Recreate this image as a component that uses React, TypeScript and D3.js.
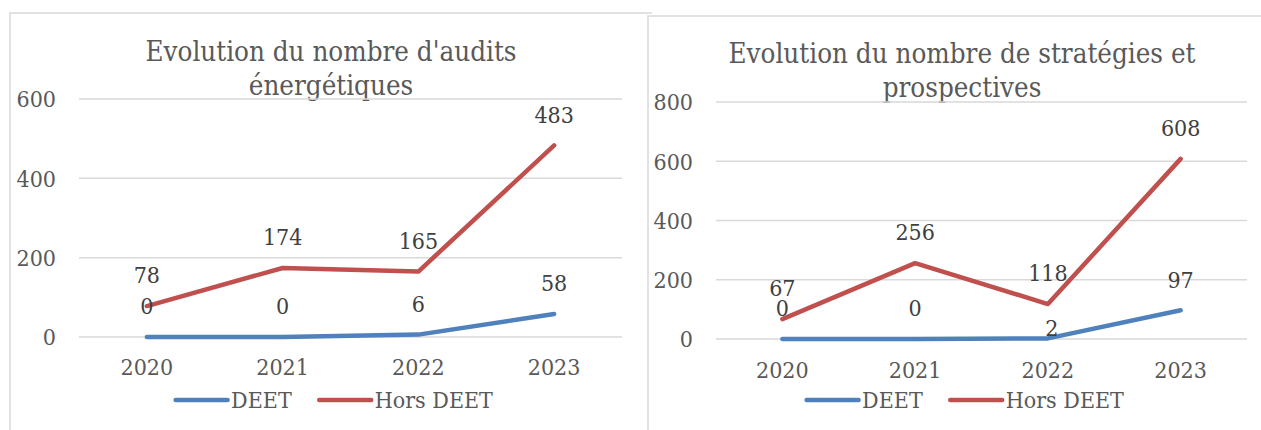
import React, { useEffect, useRef } from "react";
import * as d3 from "d3";

// ---- Data ----
const years = ["2020", "2021", "2022", "2023"];
const seriesNames = ["DEET", "Hors DEET"];

const auditsTitle = ["Evolution du nombre d'audits", "énergétiques"];
const auditsDEET = [0, 0, 6, 58];
const auditsHorsDEET = [78, 174, 165, 483];
const auditsTicks = [0, 200, 400, 600];

const strategiesTitle = ["Evolution du nombre de stratégies et", "prospectives"];
const strategiesDEET = [0, 0, 2, 97];
const strategiesHorsDEET = [67, 256, 118, 608];
const strategiesTicks = [0, 200, 400, 600, 800];

const COLORS = ["#4f81bd", "#c0504d"];
const FONT = "'DejaVu Serif Condensed', 'DejaVu Serif', serif";

const charts = [
  {
    title: auditsTitle,
    series: [auditsDEET, auditsHorsDEET],
    ticks: auditsTicks,
    frame: { x: 10, y: 13, w: 642 },
    plot: { x0: 79, x1: 622, yBottom: 337, yTop: 99 },
    cx: 331,
    titleY: [61, 95],
    tickLabelY: 375,
    legendY: 400,
    nudges: [] as { s: number; i: number; dx: number; dy: number }[],
  },
  {
    title: strategiesTitle,
    series: [strategiesDEET, strategiesHorsDEET],
    ticks: strategiesTicks,
    frame: { x: 648, y: 16, w: 640 },
    plot: { x0: 716, x1: 1247, yBottom: 339, yTop: 102 },
    cx: 962,
    titleY: [63, 97],
    tickLabelY: 378,
    legendY: 400,
    nudges: [{ s: 0, i: 2, dx: 4, dy: 20 }],
  },
];

export default function App() {
  const ref = useRef<SVGSVGElement>(null);

  useEffect(() => {
    const svg = d3.select(ref.current);
    svg.selectAll("*").remove();

    charts.forEach((c) => {
      const g = svg.append("g");
      // background + frame
      g.append("rect")
        .attr("x", c.frame.x)
        .attr("y", c.frame.y)
        .attr("width", c.frame.w)
        .attr("height", 500)
        .attr("fill", "#ffffff");
      g.append("path")
        .attr("d", `M${c.frame.x},${c.frame.y + 500}V${c.frame.y}H${c.frame.x + c.frame.w}`)
        .attr("fill", "none")
        .attr("stroke", "#d9d9d9")
        .attr("stroke-width", 1.5);

      const x = d3.scalePoint<string>().domain(years).range([c.plot.x0, c.plot.x1]).padding(0.5);
      const y = d3
        .scaleLinear()
        .domain([0, d3.max(c.ticks) as number])
        .range([c.plot.yBottom, c.plot.yTop]);

      // title
      c.title.forEach((t, k) => {
        g.append("text")
          .attr("x", c.cx)
          .attr("y", c.titleY[k])
          .attr("text-anchor", "middle")
          .attr("font-family", FONT)
          .attr("font-size", 27.5)
          .attr("fill", "#595959")
          .text(t);
      });

      // gridlines
      g.selectAll(null)
        .data(c.ticks)
        .enter()
        .append("line")
        .attr("x1", c.plot.x0)
        .attr("x2", c.plot.x1)
        .attr("y1", (d) => y(d))
        .attr("y2", (d) => y(d))
        .attr("stroke", "#d9d9d9")
        .attr("stroke-width", 1.5);

      // y tick labels
      g.selectAll(null)
        .data(c.ticks)
        .enter()
        .append("text")
        .attr("x", c.plot.x0 - 23)
        .attr("y", (d) => y(d))
        .attr("dy", "0.36em")
        .attr("text-anchor", "end")
        .attr("font-family", FONT)
        .attr("font-size", 23)
        .attr("fill", "#595959")
        .text((d) => String(d));

      // x tick labels
      g.selectAll(null)
        .data(years)
        .enter()
        .append("text")
        .attr("x", (d) => x(d) as number)
        .attr("y", c.tickLabelY)
        .attr("text-anchor", "middle")
        .attr("font-family", FONT)
        .attr("font-size", 23)
        .attr("fill", "#595959")
        .text((d) => d);

      // lines
      const line = d3
        .line<number>()
        .x((_, i) => x(years[i]) as number)
        .y((d) => y(d));
      c.series.forEach((vals, s) => {
        g.append("path")
          .attr("d", line(vals) as string)
          .attr("fill", "none")
          .attr("stroke", COLORS[s])
          .attr("stroke-width", 4.5)
          .attr("stroke-linecap", "round")
          .attr("stroke-linejoin", "round");
      });

      // data labels
      c.series.forEach((vals, s) => {
        vals.forEach((v, i) => {
          const n = c.nudges.find((q) => q.s === s && q.i === i);
          g.append("text")
            .attr("x", (x(years[i]) as number) + (n ? n.dx : 0))
            .attr("y", y(v) - 31 + (n ? n.dy : 0))
            .attr("dy", "0.36em")
            .attr("text-anchor", "middle")
            .attr("font-family", FONT)
            .attr("font-size", 23)
            .attr("fill", "#404040")
            .text(String(v));
        });
      });

      // legend
      const lineLen = 52;
      const gapAfterLine = 6;
      const gapBetween = 25;
      const legend = g.append("g");
      let cursor = 0;
      seriesNames.forEach((name, s) => {
        legend
          .append("line")
          .attr("x1", cursor + 2.5)
          .attr("x2", cursor + 2.5 + lineLen)
          .attr("y1", c.legendY)
          .attr("y2", c.legendY)
          .attr("stroke", COLORS[s])
          .attr("stroke-width", 4.5)
          .attr("stroke-linecap", "round");
        const t = legend
          .append("text")
          .attr("x", cursor + lineLen + gapAfterLine)
          .attr("y", c.legendY)
          .attr("dy", "0.36em")
          .attr("font-family", FONT)
          .attr("font-size", 23)
          .attr("fill", "#595959")
          .text(name);
        const tw = (t.node() as SVGTextElement).getComputedTextLength();
        cursor += lineLen + gapAfterLine + tw + gapBetween;
      });
      const total = cursor - gapBetween;
      legend.attr("transform", `translate(${c.cx + 2 - total / 2},0)`);
    });
  }, []);

  return (
    <svg
      ref={ref}
      width={1261}
      height={430}
      style={{ position: "absolute", left: 0, top: 0, display: "block", background: "#fff" }}
    />
  );
}
